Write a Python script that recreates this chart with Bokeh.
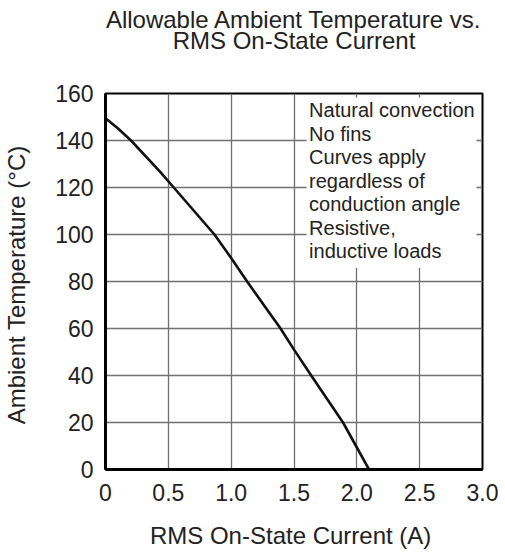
from bokeh.plotting import figure
from bokeh.models import Range1d, FixedTicker, LinearAxis
from bokeh.core.properties import value
from bokeh.embed import file_html
from bokeh.resources import INLINE

# Data
current_a = [0.0, 0.1, 0.203, 0.437, 0.543, 0.867, 1.0, 1.127, 1.393, 1.5, 1.637, 1.89, 2.097]
temp_c = [149.5, 145.1, 140, 126.5, 120, 100, 90, 80, 60, 51, 40, 20, 0]

x_ticks = [0, 0.5, 1.0, 1.5, 2.0, 2.5, 3.0]
x_tick_labels = ["0", "0.5", "1.0", "1.5", "2.0", "2.5", "3.0"]
y_ticks = [0, 20, 40, 60, 80, 100, 120, 140, 160]

note_lines = ["Natural convection", "No fins", "Curves apply", "regardless of",
              "conduction angle", "Resistive,", "inductive loads"]

title_lines = ["Allowable Ambient Temperature vs.", "RMS On-State Current"]
x_label = "RMS On-State Current  (A)"
y_label = "Ambient Temperature  (°C)"

FONT = "Liberation Sans"
TXT = "#222222"

p = figure(frame_width=377, frame_height=376, output_backend="svg", toolbar_location=None,
           title=None, x_range=Range1d(0, 3.0), y_range=Range1d(0, 160),
           min_border_left=96, min_border_right=16, min_border_top=93, min_border_bottom=72)

xax = p.below[0]
yax = p.left[0]

# Title: two centred lines, drawn as labels of two bare axes above the frame
def title_axis(text, standoff):
    ax = LinearAxis(ticker=FixedTicker(ticks=[]), axis_label=text,
                    axis_line_color=None, major_tick_line_color=None,
                    minor_tick_line_color=None, major_label_standoff=0,
                    major_tick_out=0, major_tick_in=0, minor_tick_out=0, minor_tick_in=0,
                    axis_label_standoff=standoff, axis_label_text_font=FONT,
                    axis_label_text_font_size="24px", axis_label_text_font_style="normal",
                    axis_label_text_color=TXT)
    p.add_layout(ax, "above")

title_axis(title_lines[1], 40)
title_axis(title_lines[0], -9)

p.background_fill_color = "white"
p.border_fill_color = "white"
p.outline_line_color = "black"
p.outline_line_width = 2

for ax in (xax, yax):
    ax.axis_line_color = "black"
    ax.axis_line_width = 3
    ax.major_tick_line_color = None
    ax.minor_tick_line_color = None
    ax.major_label_text_font = FONT
    ax.major_label_text_font_size = "23px"
    ax.major_label_text_color = TXT
    ax.axis_label_text_font = FONT
    ax.axis_label_text_font_size = "24px"
    ax.axis_label_text_font_style = "normal"
    ax.axis_label_text_color = TXT

xax.ticker = FixedTicker(ticks=x_ticks)
xax.major_label_overrides = {t: l for t, l in zip(x_ticks, x_tick_labels)}
yax.ticker = FixedTicker(ticks=y_ticks)
xax.axis_label = x_label
yax.axis_label = y_label
xax.major_label_standoff = 8
yax.major_label_standoff = 6
xax.axis_label_standoff = 18
yax.axis_label_standoff = 22

p.xgrid.ticker = FixedTicker(ticks=x_ticks)
p.ygrid.ticker = FixedTicker(ticks=y_ticks)
for g in (p.xgrid[0], p.ygrid[0]):
    g.grid_line_color = "#707070"
    g.grid_line_width = 1.3

# white note box over the grid
p.quad(left=1.60, right=2.952, bottom=85.8, top=158.3, fill_color="white", line_color=None)

# curve
p.line(current_a, temp_c, line_color="#111111", line_width=2.6)

# note text
ys = [152.8 - 9.97 * i for i in range(len(note_lines))]
p.text(x=[1.62] * len(note_lines), y=ys, text=note_lines,
       text_font=value(FONT), text_font_size="20px", text_color=TXT,
       text_baseline="middle", text_align="left")

open("out.html", "w").write(file_html(p, INLINE))
